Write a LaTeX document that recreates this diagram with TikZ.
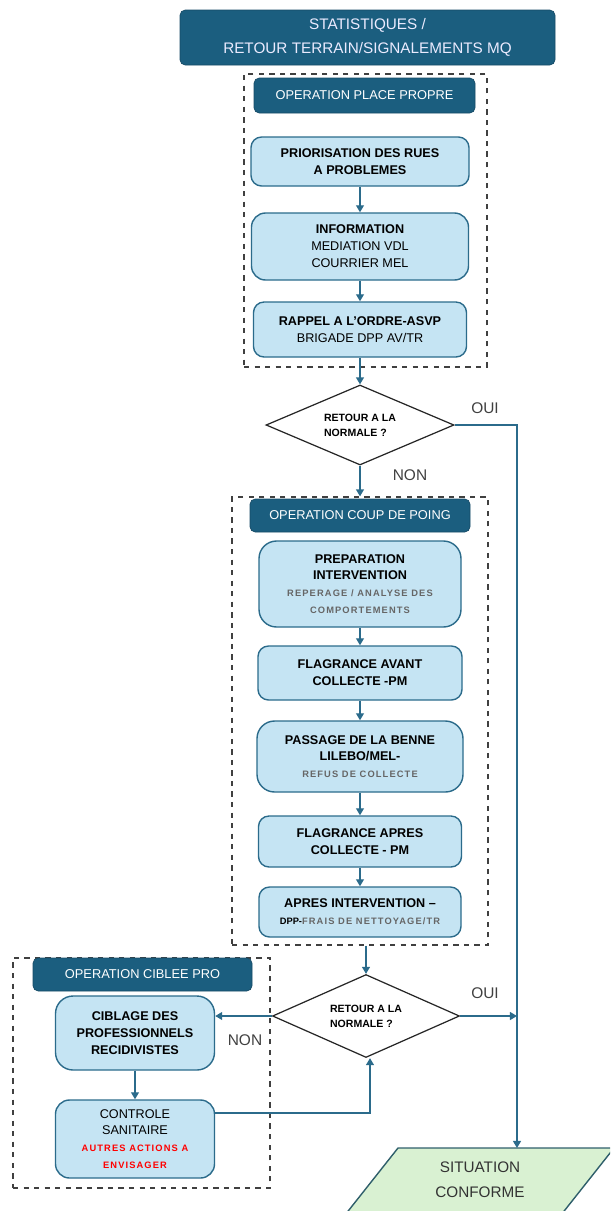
\documentclass[tikz,border=0pt]{standalone}
\usepackage{fontspec}
\setmainfont{Liberation Sans}
\newfontfamily\gesperrt[LetterSpace=12]{Liberation Sans}
\usetikzlibrary{shapes.geometric,arrows.meta}

\definecolor{dunkelblau}{HTML}{1B5E7F}
\definecolor{hellblau}{HTML}{C5E4F3}
\definecolor{rahmenblau}{HTML}{2B6B8B}
\definecolor{hellgruen}{HTML}{D9F1D2}
\definecolor{zielrand}{HTML}{2F5F6B}

\newcommand{\px}{0.02cm}
\newcommand{\klein}[1]{{\gesperrt\bfseries\fontsize{5.3}{8.2}\selectfont\color{black!60}#1}}

\begin{document}
\begin{tikzpicture}[x=0.02cm, y=-0.02cm,
	kopf/.style={draw=dunkelblau!80!black, fill=dunkelblau, rounded corners=3pt, text=white, inner sep=0pt, font=\fontsize{7.3}{9}\selectfont},
	schritt/.style={draw=rahmenblau, line width=0.8pt, fill=hellblau, rounded corners=6pt, align=center, inner sep=0pt, font=\bfseries\fontsize{7.2}{9.6}\selectfont},
	gruppe/.style={draw=black!75, dashed, line width=0.7pt, inner sep=0pt},
	raute/.style={diamond, aspect=2.3, draw=black!85, line width=0.7pt, fill=white, inner sep=0pt, align=left, font=\bfseries\fontsize{6}{8.5}\selectfont},
	pfeil/.style={draw=rahmenblau, line width=0.8pt, -{Triangle[length=4pt,width=4.5pt]}},
	antwort/.style={text=black!75, font=\fontsize{8.8}{10}\selectfont}
]
	\useasboundingbox (0,0) rectangle (610,1211); % Rand wie Vorlage
	\clip (0,0) rectangle (610,1211);
	
	\node[kopf, minimum width={375*\px}, minimum height={55*\px}, align=center, text=white!92!blue, font=\fontsize{8.7}{13.6}\selectfont] (statistik) at (367.5,37.5) {STATISTIQUES /\\RETOUR TERRAIN/SIGNALEMENTS MQ};
	
	% Gruppe 1
	\node[gruppe, minimum width={243*\px}, minimum height={293*\px}] (rahmenEins) at (365.5,220.5) {};
	\node[kopf, minimum width={221*\px}, minimum height={35*\px}] (kopfEins) at (364.5,95.5) {OPERATION PLACE PROPRE};
	\node[schritt, minimum width={218*\px}, minimum height={49*\px}] (prio) at (360,161.5) {PRIORISATION DES RUES\\A PROBLEMES};
	\node[schritt, minimum width={217*\px}, minimum height={67*\px}, rounded corners=8pt] (info) at (360,246.5) {INFORMATION\\\mdseries MEDIATION VDL\\\mdseries COURRIER MEL};
	\node[schritt, minimum width={213*\px}, minimum height={55*\px}] (rappel) at (360,329.5) {RAPPEL A L'ORDRE-ASVP\\\mdseries BRIGADE DPP AV/TR};
	
	\node[raute, minimum width={188*\px}, minimum height={80*\px}] (rauteEins) at (360,425) {RETOUR A LA\\NORMALE ?};
	
	% Gruppe 2
	\node[gruppe, minimum width={256*\px}, minimum height={448*\px}] (rahmenZwei) at (360,721) {};
	\node[kopf, minimum width={220*\px}, minimum height={33*\px}] (kopfZwei) at (360,515.5) {OPERATION COUP DE POING};
	\node[schritt, minimum width={202*\px}, minimum height={86*\px}, rounded corners=10pt] (prep) at (360,584) {PREPARATION\\INTERVENTION\\\klein{REPERAGE / ANALYSE DES}\\\klein{COMPORTEMENTS}};
	\node[schritt, minimum width={204*\px}, minimum height={54*\px}] (flagAvant) at (360,673) {FLAGRANCE AVANT\\COLLECTE -PM};
	\node[schritt, minimum width={206*\px}, minimum height={71*\px}, rounded corners=10pt] (passage) at (360,756.5) {PASSAGE DE LA BENNE\\LILEBO/MEL-\\\klein{REFUS DE COLLECTE}};
	\node[schritt, minimum width={203*\px}, minimum height={51*\px}] (flagApres) at (360,841.5) {FLAGRANCE APRES\\COLLECTE - PM};
	\node[schritt, minimum width={202*\px}, minimum height={50*\px}] (apres) at (360,912) {APRES INTERVENTION --\\{\fontsize{5.3}{8}\selectfont DPP-}\klein{FRAIS DE NETTOYAGE/TR}};
	
	\node[raute, minimum width={187*\px}, minimum height={83*\px}] (rauteZwei) at (366,1016) {RETOUR A LA\\NORMALE ?};
	
	% Gruppe 3
	\node[gruppe, minimum width={257*\px}, minimum height={230*\px}] (rahmenDrei) at (141.5,1073) {};
	\node[kopf, minimum width={219*\px}, minimum height={33*\px}] (kopfDrei) at (142.5,974.5) {OPERATION CIBLEE PRO};
	\node[schritt, minimum width={159*\px}, minimum height={74*\px}, rounded corners=10pt] (ciblage) at (135,1033) {CIBLAGE DES\\PROFESSIONNELS\\RECIDIVISTES};
	\node[schritt, minimum width={159*\px}, minimum height={78*\px}, rounded corners=8pt, font=\fontsize{7.2}{9.6}\selectfont] (controle) at (135,1139) {CONTROLE\\SANITAIRE\\{\gesperrt\bfseries\fontsize{5.3}{8}\selectfont\color{red}AUTRES ACTIONS A}\\{\gesperrt\bfseries\fontsize{5.3}{8}\selectfont\color{red}ENVISAGER}};
	
	% Ziel
	\filldraw[fill=hellgruen, draw=zielrand, line width=0.8pt] (398,1148) -- (614,1148) -- (561,1215) -- (345,1215) -- cycle;
	\node[align=center, text=black!80, font=\fontsize{8.7}{14}\selectfont] (ziel) at (480,1180) {SITUATION\\CONFORME};
	\coordinate (zielOben) at (517,1148);
	
	% Antworten
	\node[antwort] (ouiEins) at (485,408) {OUI};
	\node[antwort] (nonEins) at (410,475) {NON};
	\node[antwort] (ouiZwei) at (485,993) {OUI};
	\node[antwort] (nonZwei) at (245,1040) {NON};
	
	% Pfeile
	\draw[pfeil] (prio) -- (info);
	\draw[pfeil] (info) -- (rappel);
	\draw[pfeil] (rappel.south) -- (rauteEins.north);
	\draw[pfeil] (rauteEins.south) -- (rauteEins.south |- rahmenZwei.north);
	\draw[pfeil] (prep) -- (flagAvant);
	\draw[pfeil] (flagAvant) -- (passage);
	\draw[pfeil] (passage) -- (flagApres);
	\draw[pfeil] (flagApres) -- (apres);
	\draw[pfeil] (rahmenZwei.south -| rauteZwei.north) -- (rauteZwei.north);
	\draw[pfeil] (rauteEins.east) -| (zielOben);
	\draw[pfeil] (rauteZwei.east) -- (rauteZwei.east -| zielOben);
	\draw[pfeil] (rauteZwei.west) -- (rauteZwei.west -| ciblage.east);
	\draw[pfeil] (ciblage) -- (controle);
	\draw[pfeil] ([yshift={26*\px}]controle.east) -| ([xshift={4*\px}]rauteZwei.south);
\end{tikzpicture}
\end{document}
